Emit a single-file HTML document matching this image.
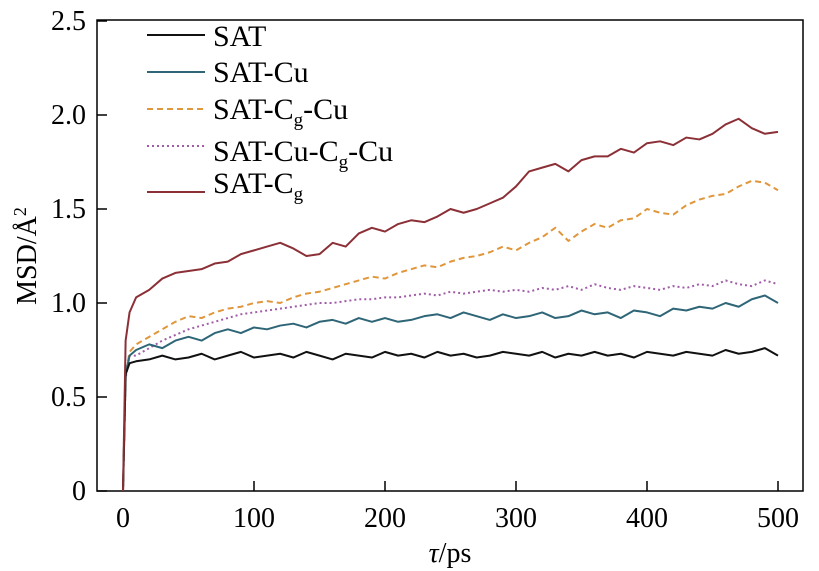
<!DOCTYPE html>
<html><head><meta charset="utf-8"><style>
body{margin:0;background:#fff}
svg{display:block;font-family:"Liberation Serif",serif}
</style></head><body>
<svg id="c" width="819" height="571"></svg>
<script>
const xs=[0,2,5,10,20,30,40,50,60,70,80,90,100,110,120,130,140,150,160,170,180,190,200,210,220,230,240,250,260,270,280,290,300,310,320,330,340,350,360,370,380,390,400,410,420,430,440,450,460,470,480,490,500];
const sat=[0,0.62,0.68,0.69,0.70,0.72,0.70,0.71,0.73,0.70,0.72,0.74,0.71,0.72,0.73,0.71,0.74,0.72,0.70,0.73,0.72,0.71,0.74,0.72,0.73,0.71,0.74,0.72,0.73,0.71,0.72,0.74,0.73,0.72,0.74,0.71,0.73,0.72,0.74,0.72,0.73,0.71,0.74,0.73,0.72,0.74,0.73,0.72,0.75,0.73,0.74,0.76,0.72];
const satCu=[0,0.62,0.72,0.75,0.78,0.76,0.80,0.82,0.80,0.84,0.86,0.84,0.87,0.86,0.88,0.89,0.87,0.90,0.91,0.89,0.92,0.90,0.92,0.90,0.91,0.93,0.94,0.92,0.95,0.93,0.91,0.94,0.92,0.93,0.95,0.92,0.93,0.96,0.94,0.95,0.92,0.96,0.95,0.93,0.97,0.96,0.98,0.97,1.00,0.98,1.02,1.04,1.00];
const satCgCu=[0,0.62,0.74,0.78,0.82,0.86,0.90,0.93,0.92,0.95,0.97,0.98,1.00,1.01,1.00,1.03,1.05,1.06,1.08,1.10,1.12,1.14,1.13,1.16,1.18,1.20,1.19,1.22,1.24,1.25,1.27,1.30,1.28,1.32,1.35,1.40,1.33,1.38,1.42,1.40,1.44,1.45,1.50,1.48,1.47,1.52,1.55,1.57,1.58,1.62,1.65,1.64,1.60];
const satCuCgCu=[0,0.60,0.72,0.72,0.76,0.80,0.83,0.86,0.88,0.90,0.92,0.94,0.95,0.96,0.97,0.98,0.99,1.00,1.00,1.01,1.02,1.02,1.03,1.03,1.04,1.05,1.04,1.06,1.05,1.06,1.07,1.06,1.07,1.06,1.08,1.07,1.09,1.07,1.10,1.08,1.07,1.09,1.08,1.07,1.09,1.08,1.10,1.09,1.12,1.10,1.09,1.12,1.10];
const satCg=[0,0.80,0.95,1.03,1.07,1.13,1.16,1.17,1.18,1.21,1.22,1.26,1.28,1.30,1.32,1.29,1.25,1.26,1.32,1.30,1.37,1.40,1.38,1.42,1.44,1.43,1.46,1.50,1.48,1.50,1.53,1.56,1.62,1.70,1.72,1.74,1.70,1.76,1.78,1.78,1.82,1.80,1.85,1.86,1.84,1.88,1.87,1.90,1.95,1.98,1.93,1.90,1.91];
const xTicks=[0,100,200,300,400,500];
const yTicks=[0,0.5,1.0,1.5,2.0,2.5];
const yTickLabels=["0","0.5","1.0","1.5","2.0","2.5"];

const NS="http://www.w3.org/2000/svg";
const svg=document.getElementById('c');
const X=v=>123+v*1.31;
const Y=v=>491-v*188;
function mk(t,a,p){const e=document.createElementNS(NS,t);for(const k in a)e.setAttribute(k,a[k]);(p||svg).appendChild(e);return e;}

const frame=mk('rect',{x:97,y:20,width:706,height:471,fill:'none',stroke:'#000','stroke-width':1.5});



xTicks.forEach(v=>{
  const t=mk('line',{x1:X(v),x2:X(v),y1:491,y2:481,stroke:'#000','stroke-width':1.5});
  
  
  const l=mk('text',{x:X(v),y:527,'text-anchor':'middle','font-size':28});
  l.textContent=v;
  
  
});
yTicks.forEach((v,i)=>{
  const t=mk('line',{x1:97,x2:107,y1:Y(v),y2:Y(v),stroke:'#000','stroke-width':1.5});
  
  
  const l=mk('text',{x:86,y:Y(v)+9,'text-anchor':'end','font-size':28});
  l.textContent=yTickLabels[i];
  
  
});

const series=[
 {d:satCuCgCu,c:'#a15ca8',dash:'2,3',name:'series-sat-cu-cg-cu'},
 {d:satCgCu,c:'#e0963a',dash:'6,4',name:'series-sat-cg-cu'},
 {d:satCu,c:'#2f6677',dash:'',name:'series-sat-cu'},
 {d:sat,c:'#111',dash:'',name:'series-sat'},
 {d:satCg,c:'#8b3036',dash:'',name:'series-sat-cg'}
];
series.forEach(s=>{
  const p=mk('polyline',{points:s.d.map((v,i)=>X(xs[i])+','+Y(v)).join(' '),fill:'none',stroke:s.c,'stroke-width':2,'stroke-dasharray':s.dash,'stroke-linejoin':'round'});
  
  
});

const sub='font-size="19" dy="7"';
const leg=[
 {c:'#111',dash:'',y:35,ty:46,t:'SAT'},
 {c:'#2f6677',dash:'',y:72,ty:82,t:'SAT-Cu'},
 {c:'#e0963a',dash:'6,4',y:109,ty:119,t:'SAT-C<tspan '+sub+'>g</tspan><tspan dy="-7">-Cu</tspan>'},
 {c:'#a15ca8',dash:'2,3',y:146,ty:161,t:'SAT-Cu-C<tspan '+sub+'>g</tspan><tspan dy="-7">-Cu</tspan>'},
 {c:'#8b3036',dash:'',y:192,ty:193,t:'SAT-C<tspan '+sub+'>g</tspan>'}
];
leg.forEach(l=>{
  const ln=mk('line',{x1:147,x2:205,y1:l.y,y2:l.y,stroke:l.c,'stroke-width':2,'stroke-dasharray':l.dash});
  
  
  const t=mk('text',{x:213,y:l.ty,'font-size':30});
  t.innerHTML=l.t;
  
  
});

const xt=mk('text',{x:450,y:562,'text-anchor':'middle','font-size':28});
xt.innerHTML='<tspan font-style="italic">τ</tspan>/ps';


const yt=mk('text',{x:0,y:0,'text-anchor':'middle','font-size':28,transform:'translate(36,256) rotate(-90)'});
yt.innerHTML='MSD/Å<tspan font-size="18" dy="-10">2</tspan>';


</script>
</body></html>
